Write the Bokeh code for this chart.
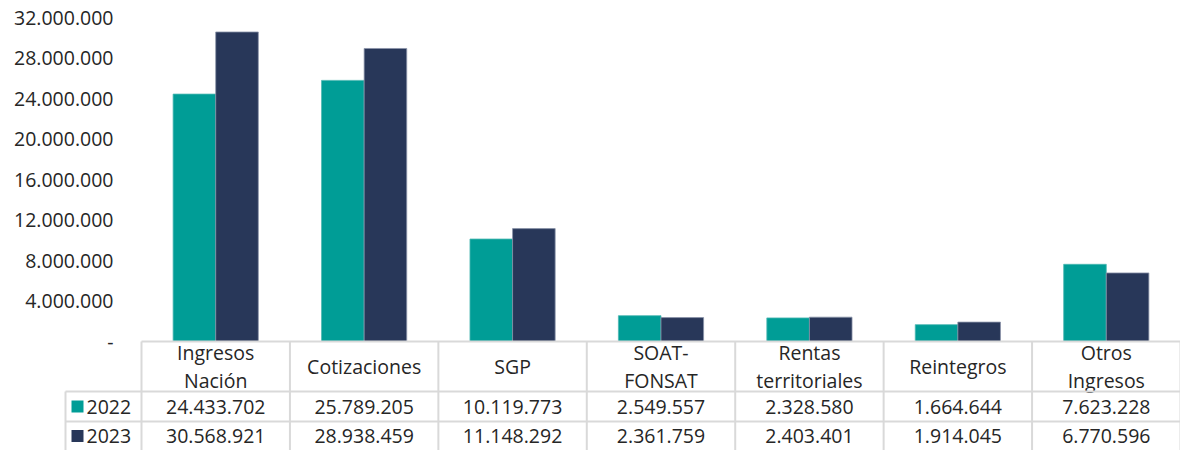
from bokeh.plotting import figure
from bokeh.models import FactorRange, Range1d, FixedTicker, ColumnDataSource
from bokeh.transform import dodge
from bokeh.core.properties import value
from bokeh.embed import file_html
from bokeh.resources import INLINE

categories = ["Ingresos Nación", "Cotizaciones", "SGP", "SOAT-FONSAT",
              "Rentas territoriales", "Reintegros", "Otros Ingresos"]
header_labels = ["Ingresos\nNación", "Cotizaciones", "SGP", "SOAT-\nFONSAT",
                 "Rentas\nterritoriales", "Reintegros", "Otros\nIngresos"]
series_names = ["2022", "2023"]
values_2022 = [24433702, 25789205, 10119773, 2549557, 2328580, 1664644, 7623228]
values_2023 = [30568921, 28938459, 11148292, 2361759, 2403401, 1914045, 6770596]
tick_values = [0, 4000000, 8000000, 12000000, 16000000, 20000000, 24000000, 28000000, 32000000]
tick_labels = ["-", "4.000.000", "8.000.000", "12.000.000", "16.000.000",
               "20.000.000", "24.000.000", "28.000.000", "32.000.000"]

TEAL = "#009D96"
NAVY = "#283759"
GRID = "#D9D9D9"
TXT = "#262626"
FONT = "Open Sans"
FS = "19.5px"

def fmt(v):
    return f"{v:,}".replace(",", ".")

# layout (pixels -> data)
W, H = 1180, 450
LEFT = 141
COLW = (W - LEFT) / len(categories)
PX = 32e6 / 324.0
y_top = 32e6 + 17 * PX
hdr_bot = -50 * PX
r1_bot = -80 * PX
y_bot = -109 * PX
leg_left = -76 / COLW

p = figure(width=W, height=H, output_backend="svg", toolbar_location=None,
           x_range=FactorRange(*categories, range_padding=0),
           y_range=Range1d(y_bot, y_top), x_axis_location=None,
           min_border_left=LEFT, min_border_right=0, min_border_top=0, min_border_bottom=0)
p.outline_line_color = None
p.grid.visible = False
p.background_fill_color = "white"

ya = p.yaxis[0]
ya.ticker = FixedTicker(ticks=tick_values)
ya.major_label_overrides = {t: l for t, l in zip(tick_values, tick_labels)}
ya.axis_line_color = None
ya.major_tick_line_color = None
ya.minor_tick_line_color = None
ya.major_label_standoff = 22
ya.major_label_text_font = FONT
ya.major_label_text_font_size = FS
ya.major_label_text_color = TXT

src = ColumnDataSource(dict(cat=categories, v2022=values_2022, v2023=values_2023,
                            hdr=header_labels,
                            t2022=[fmt(v) for v in values_2022],
                            t2023=[fmt(v) for v in values_2023]))

bw = 0.287
p.vbar(x=dodge("cat", -bw / 2, range=p.x_range), top="v2022", bottom=0, width=bw,
       source=src, fill_color=TEAL, line_color="#4DB8B3", line_width=0.8)
p.vbar(x=dodge("cat", bw / 2, range=p.x_range), top="v2023", bottom=0, width=bw,
       source=src, fill_color=NAVY, line_color="#8A93A8", line_width=0.8)

# table grid
n = len(categories)
xs0 = [0, leg_left, leg_left] + [i for i in range(0, n + 1)] + [leg_left]
ys0 = [0, hdr_bot, r1_bot] + [0] * (n + 1) + [hdr_bot]
xs1 = [n, n, n] + [i for i in range(0, n + 1)] + [leg_left]
ys1 = [0, hdr_bot, r1_bot] + [y_bot] * (n + 1) + [y_bot]
seg = p.segment(x0=xs0, y0=ys0, x1=xs1, y1=ys1, line_color=GRID, line_width=2)
seg.level = "overlay"

# table texts
p.text(x="cat", y=hdr_bot / 2, text="hdr", source=src, text_align="center",
       text_baseline="middle", text_font=value(FONT), text_font_size=FS,
       text_color=TXT, text_line_height=1.05)
p.text(x="cat", y=(hdr_bot + r1_bot) / 2, text="t2022", source=src, text_align="center",
       text_baseline="middle", text_font=value(FONT), text_font_size=FS, text_color=TXT)
p.text(x="cat", y=(r1_bot + y_bot) / 2, text="t2023", source=src, text_align="center",
       text_baseline="middle", text_font=value(FONT), text_font_size=FS, text_color=TXT)

# legend column
sq0 = -70 / COLW
sq1 = -58 / COLW
tx_x = -55 / COLW
leg_y = [(hdr_bot + r1_bot) / 2, (r1_bot + y_bot) / 2]
sq = p.segment(x0=[sq0, sq0], y0=leg_y, x1=[sq1, sq1], y1=leg_y,
               line_color=[TEAL, NAVY], line_width=12, line_cap="butt")
sq.level = "overlay"
lt = p.text(x=[tx_x, tx_x], y=leg_y, text=series_names, text_align="left",
            text_baseline="middle", text_font=value(FONT), text_font_size=FS,
            text_color=TXT)
lt.level = "overlay"

open("out.html", "w").write(file_html(p, INLINE))
